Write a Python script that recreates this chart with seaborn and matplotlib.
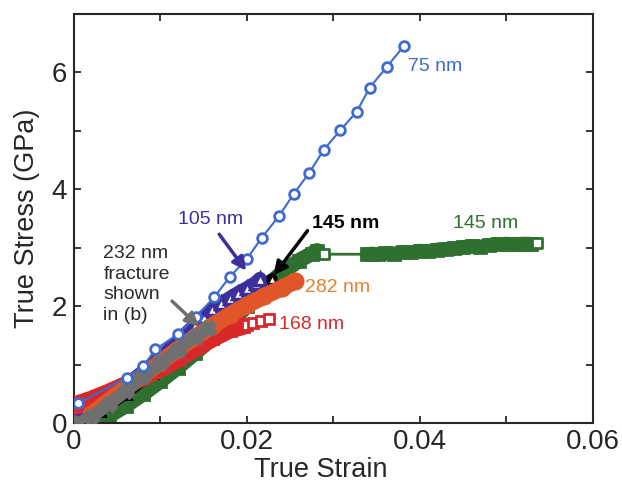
import matplotlib
matplotlib.use("Agg")
import matplotlib.pyplot as plt
import seaborn as sns
import numpy as np
import pandas as pd
from matplotlib.ticker import FixedLocator, FixedFormatter, MultipleLocator

# ---------------- data ----------------
x75 = [0.0005, 0.0061, 0.0080, 0.0094, 0.0120, 0.0141, 0.0162, 0.0180, 0.0200, 0.0217,
       0.0237, 0.0254, 0.0272, 0.0289, 0.0308, 0.0327, 0.0342, 0.0362, 0.0382]
y75 = [0.34, 0.78, 0.97, 1.26, 1.52, 1.82, 2.15, 2.50, 2.81, 3.17,
       3.54, 3.92, 4.28, 4.68, 5.01, 5.33, 5.74, 6.10, 6.46]

x105 = [0.0, 0.002, 0.004, 0.006, 0.008, 0.010, 0.012, 0.014, 0.015, 0.016, 0.017,
        0.018, 0.019, 0.020, 0.021, 0.0215]
y105 = [0.05, 0.20, 0.42, 0.65, 0.88, 1.12, 1.40, 1.68, 1.82, 1.95, 2.05,
        2.14, 2.23, 2.31, 2.40, 2.47]

x145b = [0.0, 0.003, 0.006, 0.009, 0.012, 0.015, 0.018, 0.021, 0.0229]
y145b = [0.0, 0.20, 0.50, 0.85, 1.20, 1.60, 1.98, 2.30, 2.47]

x145g = [0.0025, 0.004, 0.006, 0.008, 0.010, 0.012, 0.014, 0.016, 0.018, 0.020,
         0.022, 0.024, 0.026, 0.0275, 0.0281]
y145g = [0.0, 0.12, 0.30, 0.50, 0.72, 0.95, 1.20, 1.45, 1.72, 2.00,
         2.30, 2.57, 2.78, 2.90, 2.95]
x145g_tail = [0.0289, 0.0339, 0.0345, 0.0352, 0.0360, 0.0370, 0.0380, 0.0390, 0.0400,
              0.0410, 0.0420, 0.0430, 0.0440, 0.0450, 0.0460, 0.0470, 0.0480, 0.0490,
              0.0500, 0.0510, 0.0520, 0.0528, 0.0535]
y145g_tail = [2.89, 2.89, 2.90, 2.89, 2.91, 2.90, 2.93, 2.92, 2.95,
              2.94, 2.97, 2.98, 2.99, 3.01, 3.03, 3.02, 3.05, 3.06,
              3.07, 3.06, 3.07, 3.07, 3.08]

x168 = [0.0, 0.002, 0.004, 0.006, 0.008, 0.010, 0.012, 0.014, 0.016, 0.018, 0.0195]
y168 = [0.30, 0.40, 0.52, 0.65, 0.79, 0.94, 1.10, 1.28, 1.45, 1.60, 1.66]
x168_tail = [0.0200, 0.0207, 0.0216, 0.0225]
y168_tail = [1.68, 1.71, 1.74, 1.78]

x282 = [0.002, 0.004, 0.006, 0.008, 0.010, 0.012, 0.014, 0.016, 0.018, 0.020,
        0.022, 0.024, 0.0256]
y282 = [0.15, 0.38, 0.60, 0.82, 1.04, 1.26, 1.47, 1.67, 1.85, 2.02,
        2.17, 2.31, 2.43]

x232 = [0.0005, 0.002, 0.004, 0.006, 0.008, 0.010, 0.012, 0.014, 0.0155]
y232 = [0.0, 0.10, 0.32, 0.55, 0.80, 1.02, 1.25, 1.48, 1.62]

xticks = [0, 0.02, 0.04, 0.06]
xtick_labels = ["0", "0.02", "0.04", "0.06"]
yticks = [0, 2, 4, 6]
ytick_labels = ["0", "2", "4", "6"]

# ---------------- style ----------------
sns.set_style("ticks")
plt.rcParams["font.family"] = ["Liberation Sans", "DejaVu Sans"]

C75 = "#3f6bcc"
C105 = "#3a2f9c"
CGREEN = "#2f6f30"
CRED = "#d8282a"
CORANGE = "#e05628"
CORANGE_T = "#e8802f"
CGRAY = "#6f6f6f"

fig = plt.figure(figsize=(6.22, 4.83), dpi=100)
ax = fig.add_axes([0.119, 0.124, 0.834, 0.847])


def band(x, y, color, lw, marker, ms, z, mfc=None, mew=2):
    df = pd.DataFrame({"x": x, "y": y})
    sns.lineplot(data=df, x="x", y="y", ax=ax, color=color, lw=lw, sort=False,
                 estimator=None, marker=marker, markersize=ms,
                 markerfacecolor=mfc if mfc else color, markeredgecolor=color,
                 markeredgewidth=mew, zorder=z, legend=False,
                 solid_capstyle="round", solid_joinstyle="round")


# green 145 nm
band(x145g, y145g, CGREEN, 11, "s", 9, 1)
df = pd.DataFrame({"x": x145g_tail, "y": y145g_tail})
sns.lineplot(data=df, x="x", y="y", ax=ax, color=CGREEN, lw=2, sort=False,
             estimator=None, legend=False, zorder=1)
band(x145g_tail[1:-1], y145g_tail[1:-1], CGREEN, 10, "s", 9, 1)
sns.scatterplot(x=[x145g_tail[0], x145g_tail[-1]],
                y=[y145g_tail[0], y145g_tail[-1]], ax=ax, marker="s", s=55,
                facecolor="white", edgecolor=CGREEN, linewidth=2, zorder=1.5)

# black 145 nm
band(x145b, y145b, "black", 8, "^", 7, 2)
sns.scatterplot(x=[x145b[-1]], y=[y145b[-1]], ax=ax, marker="^", s=40,
                facecolor="white", edgecolor="black", linewidth=1.5, zorder=2.5)

# 105 nm
band(x105, y105, C105, 10, "^", 8, 3, mfc="white", mew=2.5)

# red 168 nm
band(x168, y168, CRED, 13, "s", 9, 4)
df = pd.DataFrame({"x": x168_tail, "y": y168_tail})
sns.lineplot(data=df, x="x", y="y", ax=ax, color=CRED, lw=2, sort=False,
             estimator=None, marker="s", markersize=7.5, markerfacecolor="white",
             markeredgecolor=CRED, markeredgewidth=2, legend=False, zorder=4)

# orange 282 nm
band(x282, y282, CORANGE, 12, "o", 11, 5)

# gray 232 nm
band(x232, y232, CGRAY, 9, "X", 10, 6)

# 75 nm
df = pd.DataFrame({"x": x75, "y": y75})
sns.lineplot(data=df, x="x", y="y", ax=ax, color=C75, lw=1.5, sort=False,
             estimator=None, marker="o", markersize=7, markerfacecolor="white",
             markeredgecolor=C75, markeredgewidth=2, legend=False, zorder=7)

# ---------------- annotations ----------------
fs = 14
akw = dict(arrowstyle="-|>,head_length=0.8,head_width=0.4", lw=2.5)
ax.text(0.0386, 6.1, "75 nm", color=C75, fontsize=fs, ha="left", va="center")
ax.text(0.0158, 3.49, "105 nm", color=C105, fontsize=fs, ha="center", va="center")
ax.annotate("", xy=(0.0201, 2.57), xytext=(0.0166, 3.27),
            arrowprops=dict(color=C105, **akw), zorder=8)
ax.text(0.0275, 3.42, "145 nm", color="black", fontsize=fs, fontweight="bold",
        ha="left", va="center")
ax.annotate("", xy=(0.0229, 2.49), xytext=(0.0272, 3.33),
            arrowprops=dict(color="black", **akw), zorder=8)
ax.text(0.0438, 3.42, "145 nm", color=CGREEN, fontsize=fs, ha="left", va="center")
ax.text(0.0267, 2.32, "282 nm", color=CORANGE_T, fontsize=fs, ha="left", va="center")
ax.text(0.0237, 1.69, "168 nm", color=CRED, fontsize=fs, ha="left", va="center")
ax.text(0.0034, 3.04, "232 nm\nfracture\nshown\nin (b)", color="#2a2a2a",
        fontsize=fs, ha="left", va="top", linespacing=1.27)
ax.annotate("", xy=(0.0147, 1.62), xytext=(0.0111, 2.12),
            arrowprops=dict(color=CGRAY, **akw), zorder=8)

# ---------------- axes ----------------
ax.set_xlim(0, 0.06)
ax.set_ylim(0, 7)
ax.xaxis.set_major_locator(FixedLocator(xticks))
ax.xaxis.set_major_formatter(FixedFormatter(xtick_labels))
ax.yaxis.set_major_locator(FixedLocator(yticks))
ax.yaxis.set_major_formatter(FixedFormatter(ytick_labels))
ax.xaxis.set_minor_locator(MultipleLocator(0.01))
ax.yaxis.set_minor_locator(MultipleLocator(1))
ax.tick_params(which="both", direction="in", top=True, right=True, length=5,
               width=1.3, labelsize=20)
ax.tick_params(axis="x", pad=4)
ax.tick_params(axis="y", pad=5)
for s in ax.spines.values():
    s.set_linewidth(1.5)
    s.set_visible(True)
ax.set_xlabel("True Strain", fontsize=19.5, labelpad=2)
ax.xaxis.label.set_x(0.475)
ax.set_ylabel("True Stress (GPa)", fontsize=19.5, labelpad=8)

fig.savefig("out.png", dpi=100)
